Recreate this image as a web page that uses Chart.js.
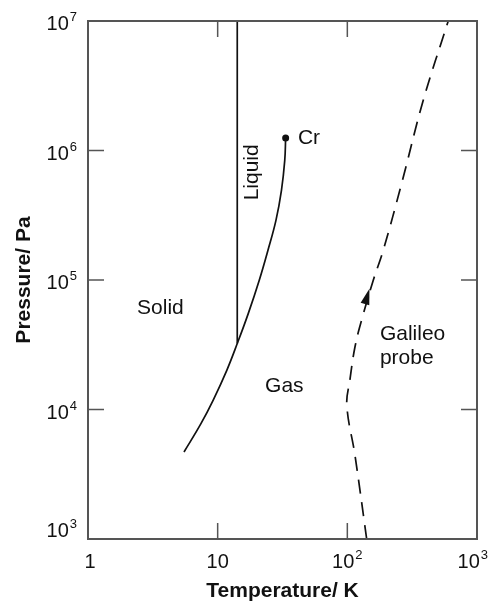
<!DOCTYPE html>
<html><head><meta charset="utf-8">
<script src="https://cdn.jsdelivr.net/npm/chart.js@4.4.1/dist/chart.umd.min.js"></script>
<style>html,body{margin:0;padding:0;background:#fff}#wrap{width:489px;height:602px}</style>
</head><body><div id="wrap"><canvas id="ChartHTML" width="489" height="602"></canvas></div>
<script>
// melting line, solid|liquid
const meltT=[14.16,14.16]
const meltP=[32300,1e7]
// sublimation + vapour pressure curve, ends at the critical point
const vapT=[5.50,7.43,9.22,11.76,14.16,17.21,20.93,24.43,28.15,31.04,32.91,33.44]
const vapP=[4700,7780,11780,20080,32300,55000,99600,169800,289000,493000,839000,1250000]
const critT=[33.44]
const critP=[1250000]
// Galileo probe track
const probeT=[141,114.5,99.1,104.7,114.5,128.8,158.5,189,262,385,600]
const probeP=[1000,4440,10770,16960,30400,48900,99500,169000,555000,2440000,1e7]
// arrow on the track
const arrowT=[141.6]
const arrowP=[73400]

// axes
const xTicks=[1,10,100,1000]
const xTickBase=['1','10','10','10']
const xTickExp=['','','2','3']
const yTicks=[1e3,1e4,1e5,1e6,1e7]
const yTickBase=['10','10','10','10','10']
const yTickExp=['3','4','5','6','7']
const xTitle='Temperature/ K'
const yTitle='Pressure/ Pa'

// region names
const regionText=['Solid','Gas','Galileo','probe','Liquid','Cr']

// where the names sit (data units) - kept apart from the values
const NOTES=[
 {T:2.39,P:55000,rot:0},
 {T:23.2,P:13650,rot:0},
 {T:178.4,P:34200,rot:0},
 {T:178.4,P:22600,rot:0},
 {T:20.45,P:412000,rot:-Math.PI/2},
 {T:41.6,P:1130000,rot:0}
]

const FONT='"Liberation Sans", Arial, Helvetica, sans-serif'
const INK='#111'
const FRAME='#555'

function pts(T,P){return T.map((t,i)=>({x:t,y:P[i]}))}

function supText(c,base,exp,x,y,raise,align){
 c.font='20px '+FONT
 const w1=c.measureText(base).width
 c.font='13px '+FONT
 const w2=exp?c.measureText(exp).width+1:0
 let left=align==='right'?x-(w1+w2):x-(w1+w2)/2
 if(left+w1+w2>c.canvas.width-1){left=c.canvas.width-1-(w1+w2)}
 c.textAlign='left';c.textBaseline='alphabetic'
 c.font='20px '+FONT;c.fillText(base,left,y)
 if(exp){c.font='13px '+FONT;c.fillText(exp,left+w1+1,y-raise)}
}

const framePlugin={id:'frame',afterDatasetsDraw(chart){
 const c=chart.ctx,a=chart.chartArea,X=chart.scales.x,Y=chart.scales.y
 c.save()
 //								FRAME + TICKS
 c.strokeStyle=FRAME;c.lineWidth=2
 c.strokeRect(a.left,a.top,a.right-a.left,a.bottom-a.top)
 c.lineWidth=1.5
 xTicks.forEach(v=>{const p=X.getPixelForValue(v);c.beginPath();c.moveTo(p,a.bottom);c.lineTo(p,a.bottom-16);c.moveTo(p,a.top);c.lineTo(p,a.top+16);c.stroke()})
 yTicks.forEach(v=>{const p=Y.getPixelForValue(v);c.beginPath();c.moveTo(a.left,p);c.lineTo(a.left+16,p);c.moveTo(a.right,p);c.lineTo(a.right-16,p);c.stroke()})
 //								TICK LABELS
 c.fillStyle=INK
 xTicks.forEach((v,i)=>supText(c,xTickBase[i],xTickExp[i],X.getPixelForValue(v)+(i===0?2:0),a.bottom+29,9,'center'))
 yTicks.forEach((v,i)=>{const dy=i===0?-2:9;supText(c,yTickBase[i],yTickExp[i],a.left-11,Y.getPixelForValue(v)+dy,9,'right')})
 //								AXIS TITLES
 c.font='bold 21px '+FONT;c.textAlign='center';c.textBaseline='middle'
 c.fillText(xTitle,(a.left+a.right)/2,a.bottom+52)
 c.save();c.translate(24,(a.top+a.bottom)/2);c.rotate(-Math.PI/2);c.fillText(yTitle,0,0);c.restore()
 //								REGION NAMES
 c.font='21px '+FONT;c.textAlign='left';c.textBaseline='alphabetic'
 regionText.forEach((t,i)=>{const n=NOTES[i];c.save();c.translate(X.getPixelForValue(n.T),Y.getPixelForValue(n.P));c.rotate(n.rot);c.fillText(t,0,0);c.restore()})
 //								ARROW ON PROBE TRACK
 const px=X.getPixelForValue(arrowT[0]),py=Y.getPixelForValue(arrowP[0])
 const ax=X.getPixelForValue(probeT[5]),ay=Y.getPixelForValue(probeP[5])
 const bx=X.getPixelForValue(probeT[6]),by=Y.getPixelForValue(probeP[6])
 const ang=Math.atan2(by-ay,bx-ax)
 c.translate(px,py);c.rotate(ang)
 c.beginPath();c.moveTo(9,0);c.lineTo(-7,-4.5);c.lineTo(-7,4.5);c.closePath()
 c.fillStyle=INK;c.fill()
 c.restore()
}}

let Chart1
function LoadChart(){
 Chart1=new Chart(document.getElementById('ChartHTML'),{
  type:'scatter',
  data:{datasets:[
   {data:pts(meltT,meltP),showLine:true,borderColor:INK,borderWidth:1.7,pointRadius:0},
   {data:pts(vapT,vapP),showLine:true,borderColor:INK,borderWidth:1.7,pointRadius:0,tension:0.4},
   {data:pts(critT,critP),showLine:false,pointRadius:3.5,backgroundColor:INK,borderColor:INK,borderWidth:0},
   {data:pts(probeT,probeP),showLine:true,borderColor:INK,borderWidth:1.7,borderDash:[14,9],pointRadius:0,tension:0.4}
  ]},
  options:{
   responsive:false,animation:false,devicePixelRatio:1,
   layout:{padding:{left:88,top:21,right:12,bottom:63}},
   plugins:{legend:{display:false},tooltip:{enabled:false}},
   scales:{
    x:{type:'logarithmic',min:1,max:1000,display:false},
    y:{type:'logarithmic',min:1000,max:1e7,display:false}
   }
  },
  plugins:[framePlugin]
 })
}
LoadChart()
</script>
</body></html>
